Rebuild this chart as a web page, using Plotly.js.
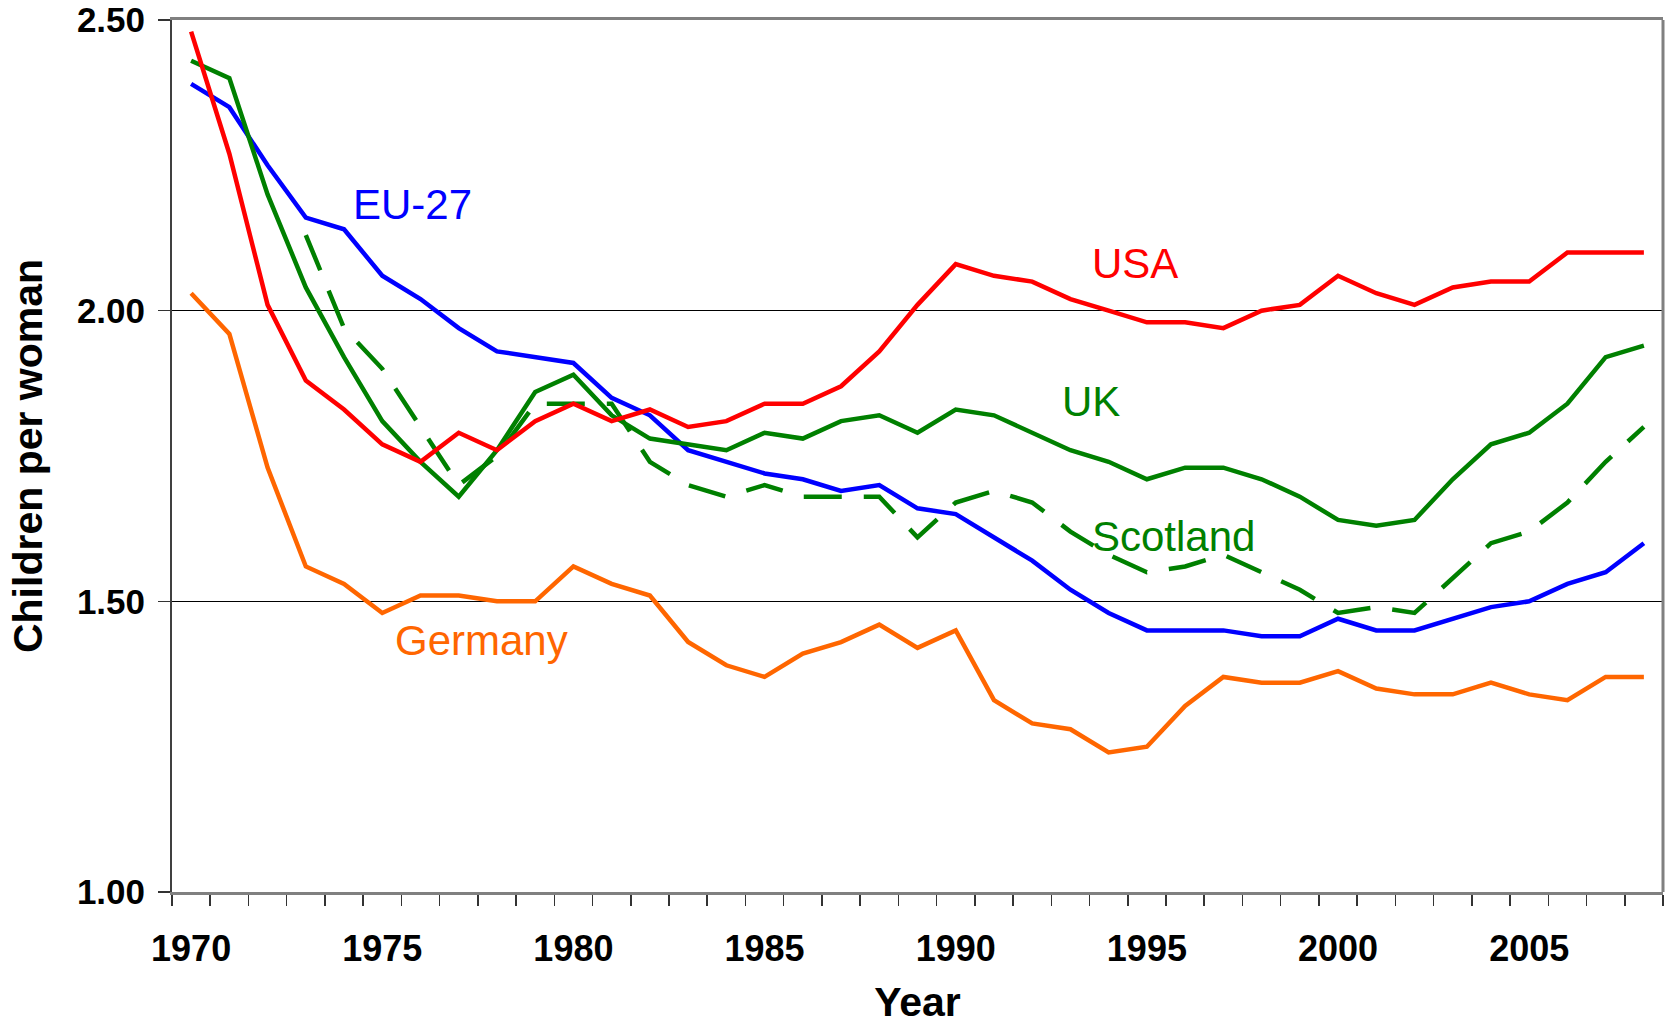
<!DOCTYPE html>
<html>
<head>
<meta charset="utf-8">
<script src="https://cdn.plot.ly/plotly-3.0.1.min.js"></script>
<style>
  html, body { margin: 0; padding: 0; background: #ffffff; }
  #chart { width: 1672px; height: 1025px; }
</style>
</head>
<body>
<div id="chart"></div>
<script>
const years = [1970,1971,1972,1973,1974,1975,1976,1977,1978,1979,1980,1981,1982,1983,1984,1985,1986,1987,1988,1989,1990,1991,1992,1993,1994,1995,1996,1997,1998,1999,2000,2001,2002,2003,2004,2005,2006,2007,2008];

const usa = [2.48,2.27,2.01,1.88,1.83,1.77,1.74,1.79,1.76,1.81,1.84,1.81,1.83,1.80,1.81,1.84,1.84,1.87,1.93,2.01,2.08,2.06,2.05,2.02,2.00,1.98,1.98,1.97,2.00,2.01,2.06,2.03,2.01,2.04,2.05,2.05,2.10,2.10,2.10];

const uk = [2.43,2.40,2.20,2.04,1.92,1.81,1.74,1.68,1.76,1.86,1.89,1.82,1.78,1.77,1.76,1.79,1.78,1.81,1.82,1.79,1.83,1.82,1.79,1.76,1.74,1.71,1.73,1.73,1.71,1.68,1.64,1.63,1.64,1.71,1.77,1.79,1.84,1.92,1.94];

const eu27 = [2.39,2.35,2.25,2.16,2.14,2.06,2.02,1.97,1.93,1.92,1.91,1.85,1.82,1.76,1.74,1.72,1.71,1.69,1.70,1.66,1.65,1.61,1.57,1.52,1.48,1.45,1.45,1.45,1.44,1.44,1.47,1.45,1.45,1.47,1.49,1.50,1.53,1.55,1.60];

const germany = [2.03,1.96,1.73,1.56,1.53,1.48,1.51,1.51,1.50,1.50,1.56,1.53,1.51,1.43,1.39,1.37,1.41,1.43,1.46,1.42,1.45,1.33,1.29,1.28,1.24,1.25,1.32,1.37,1.36,1.36,1.38,1.35,1.34,1.34,1.36,1.34,1.33,1.37,1.37];

const scotland = [null,null,null,2.13,1.97,1.90,1.80,1.70,1.75,1.84,1.84,1.84,1.74,1.70,1.68,1.70,1.68,1.68,1.68,1.61,1.67,1.69,1.67,1.62,1.58,1.55,1.56,1.58,1.55,1.52,1.48,1.49,1.48,1.54,1.60,1.62,1.67,1.74,1.80];

const yTicks = [1.0, 1.5, 2.0, 2.5];
const xTickYears = [1970,1975,1980,1985,1990,1995,2000,2005];

const seriesLabels = ["EU-27","USA","UK","Scotland","Germany"];
const labelYears = [1975.8, 1994.7, 1993.55, 1995.7, 1977.6];
const labelValues = [2.183, 2.081, 1.844, 1.612, 1.433];

const colors = {usa:"#FF0000", uk:"#008000", eu:"#0000FF", de:"#FF6600"};

const traces = [
  {x: years, y: germany, name: "Germany", mode: "lines", line: {color: colors.de, width: 4.5}},
  {x: years, y: eu27, name: "EU-27", mode: "lines", line: {color: colors.eu, width: 4.5}},
  {x: years, y: scotland, name: "Scotland", mode: "lines", connectgaps: false, line: {color: colors.uk, width: 4.5, dash: "38px,22px"}},
  {x: years, y: uk, name: "UK", mode: "lines", line: {color: colors.uk, width: 4.5}},
  {x: years, y: usa, name: "USA", mode: "lines", line: {color: colors.usa, width: 4.5}}
];

const labelColors = [colors.eu, colors.usa, colors.uk, colors.uk, colors.de];
const annotations = seriesLabels.map((t, i) => ({
  x: labelYears[i], y: labelValues[i], xref: "x", yref: "y",
  text: t, showarrow: false, xanchor: "center", yanchor: "middle",
  font: {family: "Liberation Sans, Arial, sans-serif", size: 42, color: labelColors[i]}
}));

const layout = {
  width: 1672, height: 1025,
  margin: {l: 172, r: 9, t: 20, b: 133},
  paper_bgcolor: "#ffffff", plot_bgcolor: "#ffffff",
  showlegend: false,
  font: {family: "Liberation Sans, Arial, sans-serif", color: "#000"},
  xaxis: {
    range: [1969.5, 2008.5],
    tickmode: "array", tickvals: xTickYears, ticktext: xTickYears.map(String),
    ticks: "", showgrid: false, zeroline: false,
    showline: true, linecolor: "#808080", linewidth: 3, mirror: true,
    tickfont: {family: "Liberation Sans, Arial, sans-serif", size: 36, color: "#000", weight: "bold"},
    ticklabelstandoff: 23,
    minor: {tick0: 1969.5, dtick: 1, ticks: "outside", ticklen: 11, tickwidth: 1.5, tickcolor: "#333", showgrid: false},
    title: {text: "<b>Year</b>", font: {family: "Liberation Sans, Arial, sans-serif", size: 41, color: "#000"}, standoff: 22}
  },
  yaxis: {
    range: [1.0, 2.5],
    tickmode: "array", tickvals: yTicks, ticktext: yTicks.map(v => v.toFixed(2)),
    ticks: "outside", ticklen: 12, tickwidth: 1.5, tickcolor: "#333",
    showgrid: true, gridcolor: "#000", gridwidth: 1, zeroline: false,
    showline: true, linecolor: "#404040", linewidth: 2,
    tickfont: {family: "Liberation Sans, Arial, sans-serif", size: 35, color: "#000", weight: "bold"},
    ticklabelstandoff: 6,
    title: {text: "<b>Children per woman</b>", font: {family: "Liberation Sans, Arial, sans-serif", size: 41, color: "#000"}, standoff: 22}
  },
  shapes: [
    {type: "line", xref: "paper", yref: "paper", x0: 1, x1: 1, y0: 0, y1: 1, line: {color: "#808080", width: 3}}
  ],
  annotations: annotations
};

Plotly.newPlot("chart", traces, layout, {displayModeBar: false, staticPlot: true});
</script>
</body>
</html>
